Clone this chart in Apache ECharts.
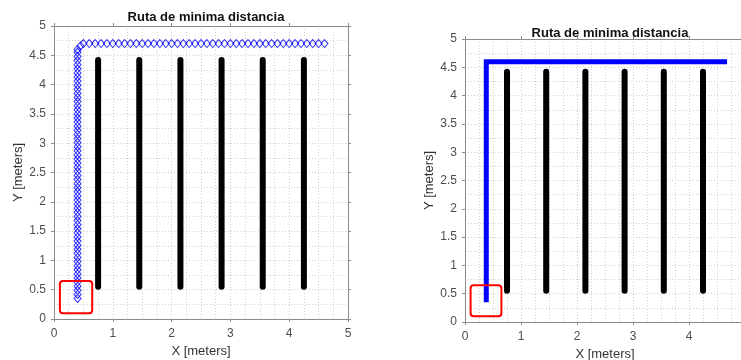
<!DOCTYPE html>
<html>
<head>
<meta charset="utf-8">
<script src="https://cdn.jsdelivr.net/npm/echarts@6/dist/echarts.min.js"></script>
<style>html,body{margin:0;padding:0;background:#fff;overflow:hidden;}#c{width:741px;height:360px;}</style>
</head>
<body>
<div id="c"></div>
<script>
// ---- data ----
const titleText = 'Ruta de minima distancia';
const xName = 'X [meters]';
const yName = 'Y [meters]';
const barX = [0.75, 1.45, 2.15, 2.85, 3.55, 4.25];
const barY0 = [0.55, 0.55, 0.55, 0.55, 0.55, 0.55];
const barY1 = [4.42, 4.42, 4.42, 4.42, 4.42, 4.42];
// left plot: path markers
const vertX = 0.4;
const vertY = [0.35,0.42,0.49,0.56,0.63,0.7,0.77,0.84,0.91,0.98,1.05,1.12,1.19,1.26,1.33,1.4,1.47,1.54,1.61,1.68,1.75,1.82,1.89,1.96,2.03,2.1,2.17,2.24,2.31,2.38,2.45,2.52,2.59,2.66,2.73,2.8,2.87,2.94,3.01,3.08,3.15,3.22,3.29,3.36,3.43,3.5,3.57,3.64,3.71,3.78,3.85,3.92,3.99,4.06,4.13,4.2,4.27,4.34,4.41,4.48,4.55,4.6];
const cornerX = [0.45];
const cornerY = [4.66];
const topY = 4.7;
const topX = [0.5,0.6,0.7,0.8,0.9,1,1.1,1.2,1.3,1.4,1.5,1.6,1.7,1.8,1.9,2,2.1,2.2,2.3,2.4,2.5,2.6,2.7,2.8,2.9,3,3.1,3.2,3.3,3.4,3.5,3.6,3.7,3.8,3.9,4,4.1,4.2,4.3,4.4,4.5,4.6];
// right plot: path line
const rightPathX = [0.38, 0.38, 4.68];
const rightPathY = [0.35, 4.6, 4.6];
// start region box [x0, y0, x1, y1]
const startBox = [0.1, 0.1, 0.65, 0.65];
const xTicks = [0, 1, 2, 3, 4, 5];
const yTicks = [0, 0.5, 1, 1.5, 2, 2.5, 3, 3.5, 4, 4.5, 5];

// ---- styles ----
const font = 'Liberation Sans, Arial, Helvetica, sans-serif';
const axisCol = '#8a8a8a';
const labelCol = '#4d4d4d';
const gridCol = '#cfcfcf';

const chart = echarts.init(document.getElementById('c'), null, {renderer: 'canvas'});

const grids = [
  {left: 54, top: 26, width: 294, height: 293, outerBoundsMode: 'none', containLabel: false},
  {left: 465, top: 39, width: 280, height: 283, outerBoundsMode: 'none', containLabel: false}
];
const nameGaps = [{x: 26, y: 29}, {x: 25, y: 27}];

const xAxes = [], yAxes = [];
grids.forEach((g, i) => {
  xAxes.push({
    gridIndex: i, type: 'value', min: xTicks[0], max: xTicks[xTicks.length - 1], interval: 1,
    position: 'bottom',
    name: xName, nameLocation: 'middle', nameGap: nameGaps[i].x,
    nameTextStyle: {color: '#333', fontSize: 13, fontFamily: font},
    axisLine: {show: true, onZero: false, lineStyle: {color: axisCol, width: 1}},
    axisTick: {show: true, inside: false, length: 3, lineStyle: {color: axisCol}},
    axisLabel: {color: labelCol, fontSize: 12, fontFamily: font, margin: 9, hideOverlap: false},
    splitLine: {show: true, lineStyle: {color: gridCol, type: [1, 2], width: 1}},
    minorTick: {show: false, splitNumber: 4},
    minorSplitLine: {show: true, lineStyle: {color: gridCol, type: [1, 2], width: 1}}
  });
  xAxes.push({
    gridIndex: i, type: 'value', min: xTicks[0], max: xTicks[xTicks.length - 1], interval: 1,
    position: 'top',
    axisLine: {show: true, onZero: false, lineStyle: {color: axisCol, width: 1}},
    axisTick: {show: true, inside: false, length: 3, lineStyle: {color: axisCol}},
    axisLabel: {show: false}, splitLine: {show: false}
  });
  yAxes.push({
    gridIndex: i, type: 'value', min: yTicks[0], max: yTicks[yTicks.length - 1], interval: 0.5,
    position: 'left',
    name: yName, nameLocation: 'middle', nameGap: nameGaps[i].y, nameRotate: 90,
    nameTextStyle: {color: '#333', fontSize: 13, fontFamily: font},
    axisLine: {show: true, onZero: false, lineStyle: {color: axisCol, width: 1}},
    axisTick: {show: true, inside: false, length: 3, lineStyle: {color: axisCol}},
    axisLabel: {color: labelCol, fontSize: 12, fontFamily: font, margin: 8},
    splitLine: {show: true, lineStyle: {color: gridCol, type: [1, 2], width: 1}},
    minorTick: {show: false, splitNumber: 2},
    minorSplitLine: {show: true, lineStyle: {color: gridCol, type: [1, 2], width: 1}}
  });
  yAxes.push({
    gridIndex: i, type: 'value', min: yTicks[0], max: yTicks[yTicks.length - 1], interval: 0.5,
    position: 'right',
    axisLine: {show: true, onZero: false, lineStyle: {color: axisCol, width: 1}},
    axisTick: {show: true, inside: false, length: 3, lineStyle: {color: axisCol}},
    axisLabel: {show: false}, splitLine: {show: false}
  });
});

const series = [];
[0, 1].forEach(gi => {
  barX.forEach((bx, k) => {
    series.push({
      type: 'line', xAxisIndex: gi * 2, yAxisIndex: gi * 2, symbol: 'none', silent: true,
      data: [[bx, barY0[k]], [bx, barY1[k]]],
      lineStyle: {color: '#000', width: 6, cap: 'round'}, z: 3
    });
  });
  series.push({
    type: 'custom', xAxisIndex: gi * 2, yAxisIndex: gi * 2, silent: true, z: 5,
    data: [startBox],
    encode: {x: [0, 2], y: [1, 3]},
    renderItem: function (params, api) {
      const p0 = api.coord([api.value(0), api.value(3)]);
      const p1 = api.coord([api.value(2), api.value(1)]);
      return {
        type: 'rect',
        shape: {x: p0[0], y: p0[1], width: p1[0] - p0[0], height: p1[1] - p0[1], r: 3},
        style: {fill: 'none', stroke: '#ff0000', lineWidth: 2}
      };
    }
  });
});

// left path markers
const leftPts = vertY.map(y => [vertX, y])
  .concat(cornerX.map((x, k) => [x, cornerY[k]]))
  .concat(topX.map(x => [x, topY]));
series.push({
  type: 'scatter', xAxisIndex: 0, yAxisIndex: 0, silent: true, z: 4,
  symbol: 'diamond', symbolSize: [7, 8],
  data: leftPts,
  itemStyle: {color: 'rgba(255,255,255,0)', borderColor: '#0000ff', borderWidth: 1}
});
// right path line
series.push({
  type: 'line', xAxisIndex: 2, yAxisIndex: 2, silent: true, z: 4, symbol: 'none',
  data: rightPathX.map((x, k) => [x, rightPathY[k]]),
  lineStyle: {color: '#0000ff', width: 5, join: 'miter', cap: 'butt'}
});

chart.setOption({
  animation: false,
  backgroundColor: '#fff',
  title: [
    {text: titleText, left: 201, top: 6, textAlign: 'center',
     textStyle: {fontSize: 13, fontWeight: 'bold', color: '#111', fontFamily: font}},
    {text: titleText, left: 605, top: 22, textAlign: 'center',
     textStyle: {fontSize: 13, fontWeight: 'bold', color: '#111', fontFamily: font}}
  ],
  grid: grids,
  xAxis: xAxes,
  yAxis: yAxes,
  series: series
});
</script>
</body>
</html>
